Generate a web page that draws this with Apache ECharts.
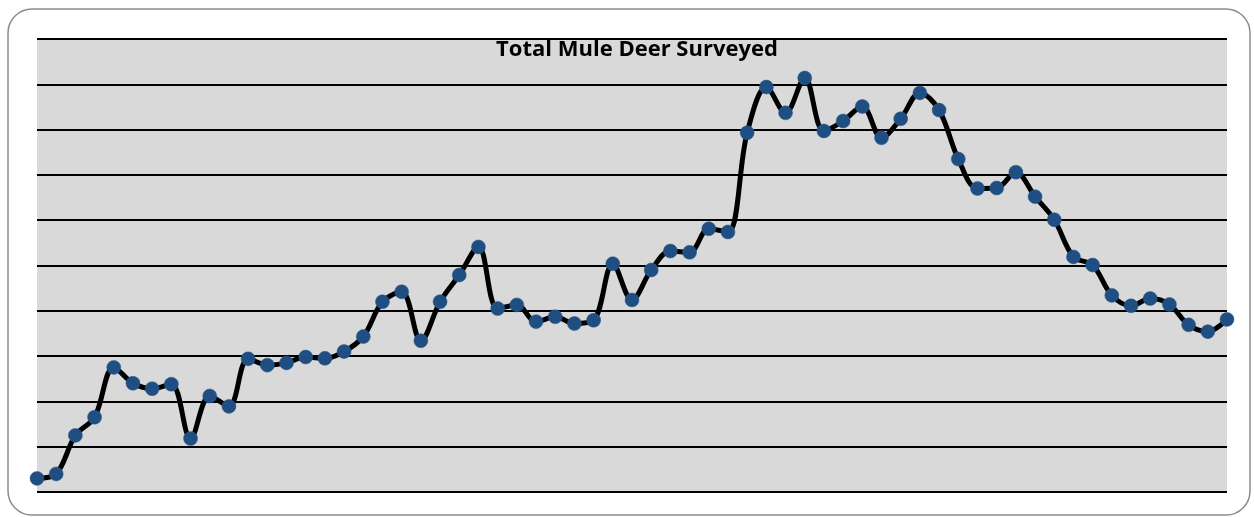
<!DOCTYPE html>
<html>
<head>
<meta charset="utf-8">
<script src="https://cdn.jsdelivr.net/npm/echarts@6/dist/echarts.min.js"></script>
<style>
html,body{margin:0;padding:0;background:#fff;}
#chart{width:1254px;height:517px;}
</style>
</head>
<body>
<div id="chart"></div>
<script>
var titleText = 'Total Mule Deer Surveyed';
var categories = ['1','2','3','4','5','6','7','8','9','10','11','12','13','14','15','16','17','18','19','20','21','22','23','24','25','26','27','28','29','30','31','32','33','34','35','36','37','38','39','40','41','42','43','44','45','46','47','48','49','50','51','52','53','54','55','56','57','58','59','60','61','62','63'];
var deerValues = [3.0,4.0,12.5,16.5,27.5,24.0,22.8,23.8,11.8,21.2,18.9,29.4,28.0,28.5,29.8,29.5,31.0,34.3,42.0,44.2,33.4,42.0,47.9,54.1,40.5,41.3,37.6,38.7,37.2,37.9,50.4,42.4,49.0,53.2,52.9,58.1,57.4,79.3,89.4,83.7,91.4,79.7,81.9,85.1,78.2,82.4,88.1,84.3,73.5,67.0,67.1,70.6,65.2,60.1,51.9,50.1,43.4,41.1,42.7,41.4,36.9,35.4,38.1];

var chart = echarts.init(document.getElementById('chart'), null, {renderer:'canvas'});
chart.setOption({
  animation:false,
  backgroundColor:'#ffffff',
  graphic:[{
    type:'rect', z:-10,
    shape:{x:8,y:9,width:1242,height:506,r:24},
    style:{fill:'#ffffff',stroke:'#8c8c8c',lineWidth:1.5}
  }],
  title:{
    text:titleText,
    left:632, top:34, textAlign:'center',
    textStyle:{fontFamily:'Open Sans',fontWeight:'bold',fontSize:22,color:'#000'}
  },
  grid:{left:37,right:27,top:39,bottom:25,show:true,backgroundColor:'#d9d9d9',borderWidth:0},
  xAxis:{
    type:'category', data:categories, boundaryGap:false,
    axisLine:{show:false}, axisTick:{show:false}, axisLabel:{show:false}, splitLine:{show:false}
  },
  yAxis:{
    type:'value', min:0, max:100, interval:10,
    axisLine:{show:false}, axisTick:{show:false}, axisLabel:{show:false},
    splitLine:{show:true,lineStyle:{color:'#000',width:1.8}}
  },
  series:[{
    type:'line', data:deerValues, smooth:0.35,
    showSymbol:true, showAllSymbol:true,
    symbol:'circle', symbolSize:14,
    lineStyle:{color:'#000',width:5},
    itemStyle:{color:'#1f4e82',borderColor:'#2a5a8a',borderWidth:0.5},
    z:3
  }]
});
</script>
</body>
</html>
